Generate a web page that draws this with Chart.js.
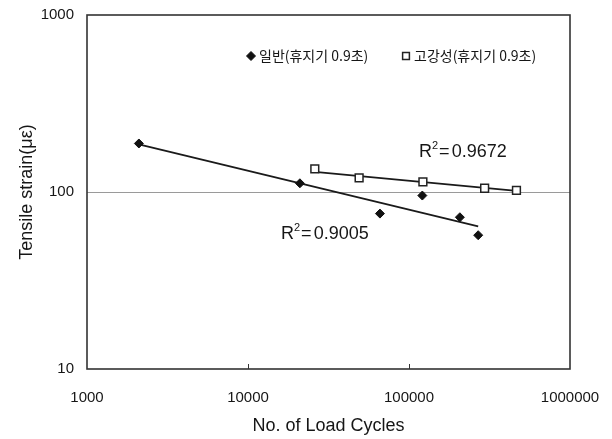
<!DOCTYPE html>
<html>
<head>
<meta charset="utf-8">
<script src="https://cdn.jsdelivr.net/npm/chart.js@4.4.0/dist/chart.umd.min.js"></script>
<style>
    html, body { margin: 0; padding: 0; background: #fff; }
    #wrap { width: 612px; height: 439px; }
</style>
</head>
<body>
<div id="wrap"><canvas id="fatigue" width="612" height="439"></canvas></div>
<script>
// Tensile strain vs. load cycles, log-log, with power trend lines

const xTickValues = [1000, 10000, 100000, 1000000];
const yTickValues = [10, 100, 1000];

const normalCycles = [2100, 21000, 66000, 121000, 207000, 269000];
const normalStrain = [188, 112, 75.5, 95.5, 72, 57];

const stiffCycles = [26000, 49000, 122000, 295000, 465000];
const stiffStrain = [135, 120, 114, 105, 102];

// trend line end points (cycles, strain)
const normalTrendCycles = [2100, 269000];
const normalTrendStrain = [186, 64];
const stiffTrendCycles = [26000, 465000];
const stiffTrendStrain = [130, 101.5];

const seriesLabels = ['일반(휴지기 0.9초)', '고강성(휴지기 0.9초)'];
const r2Labels = ['0.9005', '0.9672'];

const FONT = '"Liberation Sans", Arial, sans-serif';
const KFONT = '"Noto Sans CJK KR", "Noto Sans", sans-serif';
const INK = '#161616';

const toPoints = (xs, ys) => xs.map((x, i) => ({ x: x, y: ys[i] }));

// frame, inner x ticks, legend and R² labels
const decorations = {
    id: 'decorations',
    afterDraw(chart) {
        const ctx = chart.ctx;
        const area = chart.chartArea;
        const xs = chart.scales.x;

        ctx.save();
        ctx.strokeStyle = '#333';
        ctx.lineWidth = 1.6;
        ctx.strokeRect(area.left, area.top, area.right - area.left, area.bottom - area.top);

        ctx.lineWidth = 1;
        [10000, 100000].forEach(v => {
            const px = Math.round(xs.getPixelForValue(v)) + 0.5;
            ctx.beginPath();
            ctx.moveTo(px, area.bottom);
            ctx.lineTo(px, area.bottom - 5);
            ctx.stroke();
        });

        // legend
        const ds = chart.data.datasets;
        const legendY = 56;
        const legendItems = [
            { ds: ds[0], mx: 251, tx: 259 },
            { ds: ds[1], mx: 406, tx: 414 }
        ];
        legendItems.forEach(item => {
            ctx.fillStyle = item.ds.backgroundColor;
            ctx.strokeStyle = item.ds.borderColor;
            ctx.lineWidth = item.ds.borderWidth;
            Chart.helpers.drawPoint(ctx, {
                pointStyle: item.ds.pointStyle,
                radius: item.ds.pointStyle === 'rect' ? 4.8 : 4.5,
                borderWidth: item.ds.borderWidth
            }, item.mx, legendY);
            ctx.fillStyle = INK;
            ctx.font = '14px ' + KFONT;
            ctx.textAlign = 'left';
            ctx.textBaseline = 'middle';
            ctx.fillText(item.ds.label, item.tx, legendY);
        });

        // R² labels
        const drawR2 = (x, y, value) => {
            ctx.fillStyle = INK;
            ctx.textBaseline = 'middle';
            ctx.textAlign = 'left';
            ctx.font = '18px ' + FONT;
            ctx.fillText('R', x, y);
            let cx = x + ctx.measureText('R').width;
            ctx.font = '11px ' + FONT;
            ctx.fillText('2', cx, y - 6);
            cx += ctx.measureText('2').width + 1;
            ctx.font = '18px ' + FONT;
            ctx.fillText('=', cx, y);
            cx += ctx.measureText('=').width + 2;
            ctx.fillText(value, cx, y);
        };
        drawR2(281, 234, r2Labels[0]);
        drawR2(419, 152, r2Labels[1]);

        ctx.restore();
    }
};

new Chart(document.getElementById('fatigue'), {
    type: 'scatter',
    data: {
        datasets: [
            {
                label: seriesLabels[0],
                data: toPoints(normalCycles, normalStrain),
                pointStyle: 'rectRot',
                pointRadius: 4.5,
                backgroundColor: '#111',
                borderColor: '#111',
                borderWidth: 1,
                order: 1
            },
            {
                label: seriesLabels[1],
                data: toPoints(stiffCycles, stiffStrain),
                pointStyle: 'rect',
                pointRadius: 5.5,
                backgroundColor: '#fff',
                borderColor: '#222',
                borderWidth: 1.5,
                order: 0
            },
            {
                label: 'trend-normal',
                data: toPoints(normalTrendCycles, normalTrendStrain),
                showLine: true,
                pointRadius: 0,
                borderColor: '#1a1a1a',
                borderWidth: 1.8,
                order: 3
            },
            {
                label: 'trend-stiff',
                data: toPoints(stiffTrendCycles, stiffTrendStrain),
                showLine: true,
                pointRadius: 0,
                borderColor: '#1a1a1a',
                borderWidth: 1.8,
                order: 3
            }
        ]
    },
    options: {
        responsive: false,
        animation: false,
        devicePixelRatio: 1,
        layout: {
            padding: { top: 15, right: 42, left: 0, bottom: 0 }
        },
        plugins: {
            legend: { display: false },
            tooltip: { enabled: false }
        },
        scales: {
            x: {
                type: 'logarithmic',
                min: 1000,
                max: 1000000,
                afterBuildTicks: s => { s.ticks = xTickValues.map(v => ({ value: v })); },
                afterFit: s => {
                    s.height = 70;
                    s.paddingLeft = 0;
                    s.paddingRight = 0;
                },
                grid: { display: false },
                border: { display: false },
                ticks: {
                    autoSkip: false,
                    maxRotation: 0,
                    padding: 12,
                    color: INK,
                    font: { family: FONT, size: 15 },
                    callback: v => String(v)
                },
                title: {
                    display: true,
                    text: 'No. of Load Cycles',
                    color: INK,
                    font: { family: FONT, size: 18 },
                    padding: { top: 0, bottom: 2 }
                }
            },
            y: {
                type: 'logarithmic',
                min: 10,
                max: 1000,
                afterBuildTicks: s => { s.ticks = yTickValues.map(v => ({ value: v })); },
                afterFit: s => {
                    s.width = 87;
                    s.paddingTop = 0;
                    s.paddingBottom = 0;
                },
                grid: {
                    drawTicks: false,
                    lineWidth: 1,
                    color: c => (c.tick && c.tick.value === 100) ? '#9a9a9a' : 'rgba(0,0,0,0)'
                },
                border: { display: false },
                ticks: {
                    padding: 13,
                    color: INK,
                    font: { family: FONT, size: 15 },
                    callback: v => String(v)
                },
                title: {
                    display: true,
                    text: 'Tensile strain(με)',
                    color: INK,
                    font: { family: FONT, size: 18 },
                    padding: { top: 16, bottom: 0 }
                }
            }
        }
    },
    plugins: [decorations]
});
</script>
</body>
</html>
